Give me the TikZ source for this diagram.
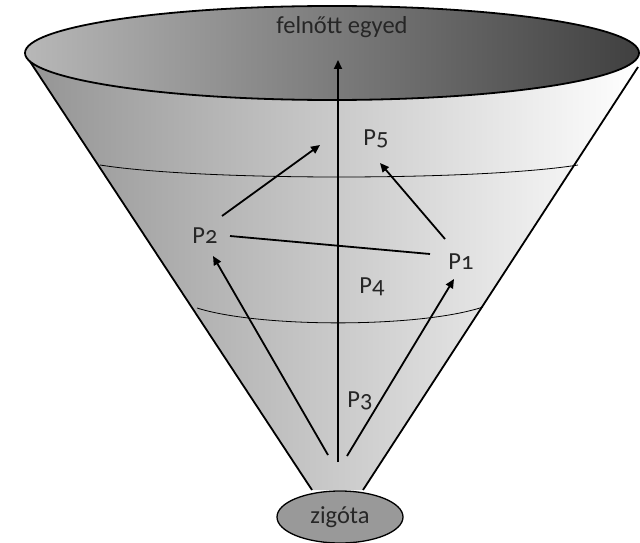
\documentclass[tikz,border=0pt]{standalone}
\usepackage{fontspec}
\setmainfont{Carlito}[Numbers=OldStyle]
\usepackage{tikz}
\usetikzlibrary{arrows.meta, positioning, shapes.geometric}

\tikzset{
	lbl/.style={text=black!85, inner sep=1pt, font=\fontsize{24.5}{28}\selectfont},
	stage/.style={-{Triangle[length=9pt, width=8pt]}, line width=1.8pt},
	side/.style={line width=1.8pt},
	band/.style={line width=0.8pt}
}

\begin{document}
\begin{tikzpicture}[x=1pt, y=-1pt]
	\useasboundingbox (0,0) rectangle (640,543);
	% cone body
	\shade[left color=black!42, right color=white] 
	(27,57) -- (312,490) -- (363,490) -- (638,67) -- cycle;
	\draw[side] (27,57) -- (312,490);
	\draw[side] (638,67) -- (363,490);
	% bands
	\draw[band] (100,165) .. controls (200,181) and (478,181) .. (578,165);
	\draw[band] (197,308) .. controls (260,328) and (420,328) .. (483,307);
	% top of the funnel
	\shade[left color=black!28, right color=black!75, draw=black, line width=1.8pt] 
	(332,53) ellipse [x radius=307, y radius=47];
	% nodes
	\node[ellipse, draw=black, line width=1.3pt, fill=black!40, minimum width=126pt, minimum height=52pt, 
	lbl] (zyg) at (340,517) {zigóta};
	\node[lbl] (adult) at (342,27) {felnőtt egyed};
	\node[lbl] (p1) at (461,262) {P1};
	\node[lbl] (p2) at (205,236) {P2};
	\node[lbl] (p3) at (360,401) {P3};
	\node[lbl] (p4) at (372,287) {P4};
	\node[lbl] (p5) at (376,139) {P5};
	% paths
	\coordinate (s0) at (338,462);
	\coordinate (s2) at (328,455);
	\coordinate (s1) at (347,456);
	\coordinate (t0) at (338,60);
	\coordinate (t2) at (213,256);
	\coordinate (t1) at (454,279);
	\coordinate (q2) at (222,216);
	\coordinate (r2) at (320,145);
	\coordinate (q1) at (445,239);
	\coordinate (r1) at (380,163);
	\coordinate (u2) at (230,236);
	\coordinate (u1) at (430,254);
	\draw[stage] (s0) -- (t0);
	\draw[stage] (s2) -- (t2);
	\draw[stage] (s1) -- (t1);
	\draw[stage] (q2) -- (r2);
	\draw[stage] (q1) -- (r1);
	\draw[line width=1.8pt] (u2) -- (u1);
\end{tikzpicture}
\end{document}
